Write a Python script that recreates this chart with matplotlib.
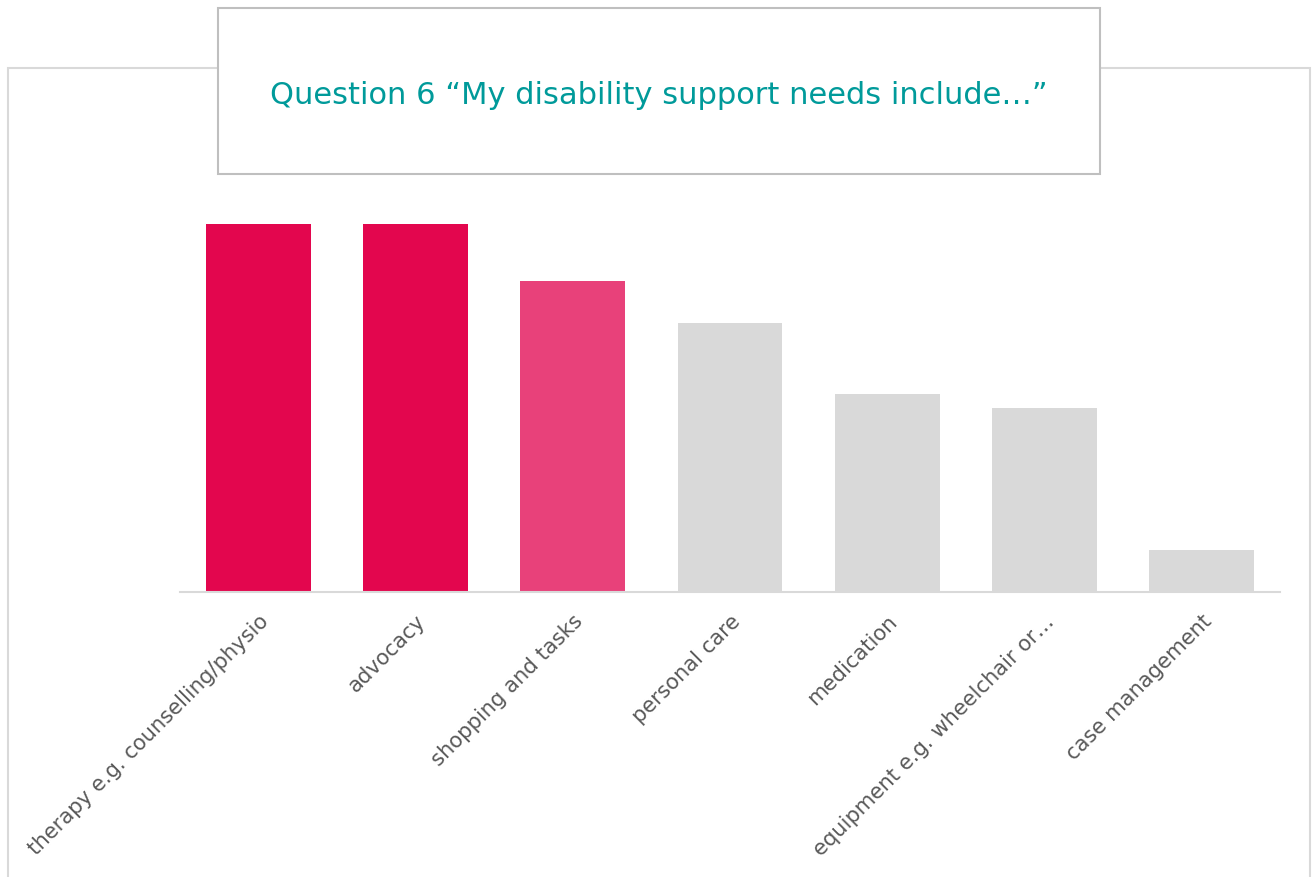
import matplotlib.pyplot as plt
from matplotlib.patches import Rectangle

# Data
categories = ['therapy e.g. counselling/physio', 'advocacy', 'shopping and tasks',
              'personal care', 'medication', 'equipment e.g. wheelchair or…',
              'case management']
values = [26, 26, 22, 19, 14, 13, 3]
bar_colors = ['#E3064E', '#E3064E', '#E8417A', '#D9D9D9', '#D9D9D9', '#D9D9D9', '#D9D9D9']
title = 'Question 6 \u201cMy disability support needs include\u2026\u201d'

W, H = 1312, 877
fig = plt.figure(figsize=(W / 100, H / 100), dpi=100)
plt.rcParams['font.family'] = ['DejaVu Sans']

# outer frame
fig.patches.append(Rectangle((8 / W, -0.01), (1310 - 8) / W, (H - 68) / H + 0.01,
                             transform=fig.transFigure, fill=False,
                             edgecolor='#D9D9D9', linewidth=1.5))
# title box
fig.patches.append(Rectangle((218 / W, (H - 174) / H), (1100 - 218) / W, (174 - 8) / H,
                             transform=fig.transFigure, facecolor='white',
                             edgecolor='#BFBFBF', linewidth=1.5, zorder=3))
fig.text(659 / W, (H - 96) / H, title, ha='center', va='center',
         fontsize=22, color='#009A9A', zorder=4)

ax = fig.add_axes([180 / W, (H - 592) / H, 1100 / W, 424.5 / H])
x = range(len(categories))
ax.bar(x, values, width=0.667, color=bar_colors)
ax.set_xlim(-0.5, len(categories) - 0.5)
ax.set_ylim(0, 30)
ax.set_yticks([])
for s in ['top', 'right', 'left']:
    ax.spines[s].set_visible(False)
ax.spines['bottom'].set_color('#D9D9D9')
ax.spines['bottom'].set_linewidth(1.5)
ax.set_xticks(list(x))
ax.set_xticklabels(categories, rotation=45, ha='right', rotation_mode='anchor',
                   fontsize=15.2, color='#595959')
ax.tick_params(axis='x', length=0, pad=14)

fig.savefig('out.png', dpi=100)
